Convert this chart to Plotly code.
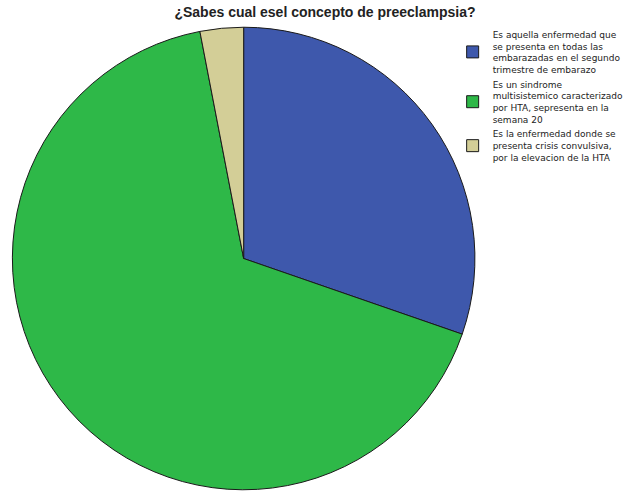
import plotly.graph_objects as go

# Respuestas a la pregunta sobre el concepto de preeclampsia
categorias = [
    "Es aquella enfermedad que<br>se presenta en todas las<br>embarazadas en el segundo<br>trimestre de embarazo",
    "Es un sindrome<br>multisistemico caracterizado<br>por HTA, sepresenta en la<br>semana 20",
    "Es la enfermedad donde se<br>presenta crisis convulsiva,<br>por la elevacion de la HTA",
]
frecuencias = [10, 22, 1]
colores = ["#3E58AC", "#2EB848", "#D3CE97"]

fig = go.Figure(
    go.Pie(
        labels=categorias,
        values=frecuencias,
        sort=False,
        direction="clockwise",
        rotation=0,
        textinfo="none",
        hoverinfo="label+percent",
        marker=dict(colors=colores, line=dict(color="#1a1a1a", width=1)),
        domain=dict(x=[12.5 / 629, 479.5 / 629], y=[0, 1 - 25 / 492]),
    )
)

fig.update_layout(
    width=629,
    height=492,
    margin=dict(l=0, r=0, t=0, b=0),
    paper_bgcolor="white",
    plot_bgcolor="white",
    title=dict(
        text="<b>¿Sabes cual esel concepto de preeclampsia?</b>",
        x=325 / 629,
        xanchor="center",
        y=1 - 12 / 492,
        yanchor="middle",
        font=dict(family="Liberation Sans, Arial", size=14, color="#222222"),
    ),
    legend=dict(
        x=457 / 629,
        y=1 - 22 / 492,
        xanchor="left",
        yanchor="top",
        font=dict(family="DejaVu Sans", size=9, color="#222222"),
        tracegroupgap=0,
        itemwidth=30,
        bgcolor="rgba(0,0,0,0)",
    ),
)

fig.write_html("out.html")
